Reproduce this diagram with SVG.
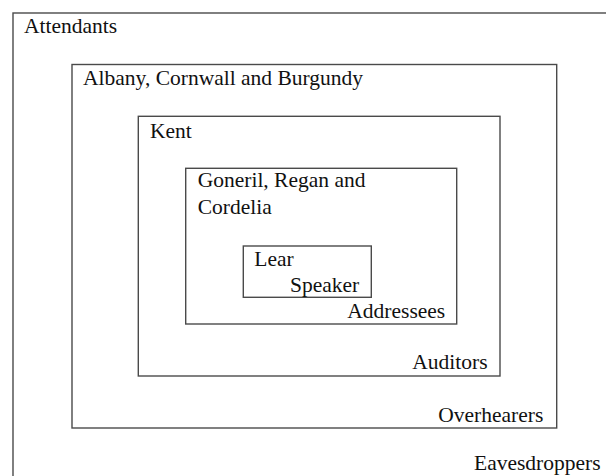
<svg xmlns="http://www.w3.org/2000/svg" width="606" height="476" viewBox="0 0 606 476">
<style>
.box{fill:none;stroke:#4a4a4a;stroke-width:1.4}
.t{font-family:"Liberation Serif","Times New Roman",serif;font-size:21.5px;fill:#111}
</style>
<rect width="606" height="476" fill="#fff"/>
<g id="attendants">
<rect class="box" x="13" y="13" width="620" height="490"/>
<text class="t" x="24" y="33">Attendants</text>
<text class="t" x="474" y="470">Eavesdroppers</text>
</g>
<g id="albany">
<rect class="box" x="72" y="64.5" width="484.7" height="363.5"/>
<text class="t" x="83" y="85">Albany, Cornwall and Burgundy</text>
<text class="t" x="438.3" y="421.7">Overhearers</text>
</g>
<g id="kent">
<rect class="box" x="138.3" y="116.3" width="361.7" height="259.7"/>
<text class="t" x="150" y="137.7">Kent</text>
<text class="t" x="412.3" y="369.3">Auditors</text>
</g>
<g id="goneril">
<rect class="box" x="185.7" y="168.3" width="271" height="155.7"/>
<text class="t" x="197.7" y="186.7">Goneril, Regan and</text>
<text class="t" x="197.7" y="214">Cordelia</text>
<text class="t" x="347.3" y="318.3">Addressees</text>
</g>
<g id="lear">
<rect class="box" x="243.3" y="246" width="128" height="51.3"/>
<text class="t" x="254.3" y="266">Lear</text>
<text class="t" x="290" y="291.7">Speaker</text>
</g>
<g id="connectors"/>
</svg>
